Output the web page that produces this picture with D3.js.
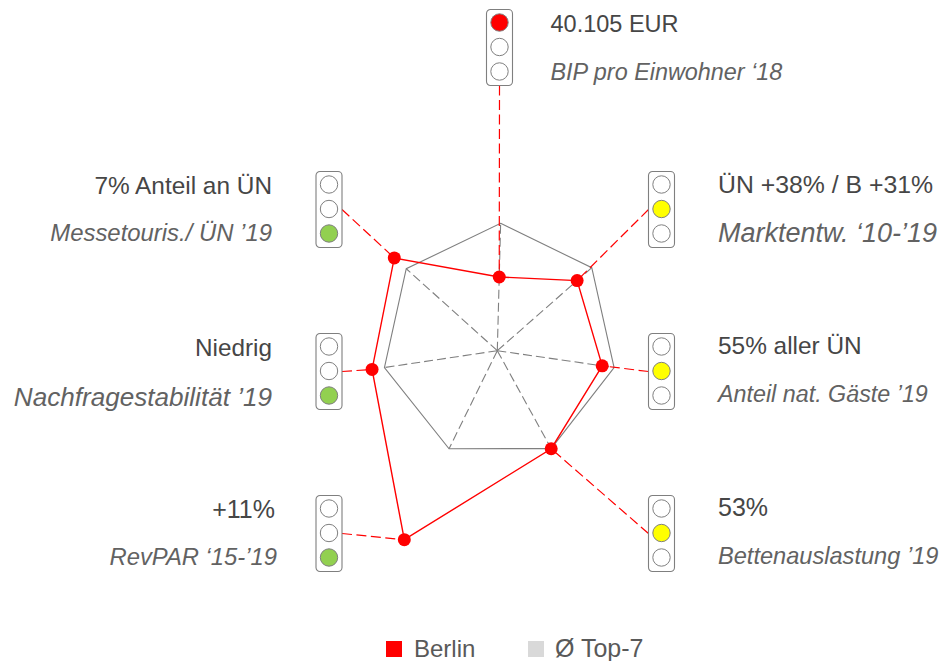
<!DOCTYPE html>
<html lang="de">
<head>
<meta charset="utf-8">
<script src="https://cdn.jsdelivr.net/npm/d3@7/dist/d3.min.js"></script>
<style>
html,body{margin:0;padding:0;background:#fff}
svg{display:block}
text{font-family:"Liberation Sans",Arial,sans-serif}
</style>
</head>
<body>
<svg id="chart" width="943" height="661"></svg>
<script>
// Indicator data, clockwise from the top spoke
const metrics = ["BIP pro Einwohner ‘18","Marktentw. ‘10-’19","Anteil nat. Gäste ’19","Bettenauslastung ’19","RevPAR ‘15-’19","Nachfragestabilität ’19","Messetouris./ ÜN ’19"];
const headlines = ["40.105 EUR","ÜN +38% / B +31%","55% aller ÜN","53%","+11%","Niedrig","7% Anteil an ÜN"];
const berlin = [59,85,84.8,89.5,168.5,101.3,110.9];
const top7 = [101.9,100.6,94.4,89.4,87.4,91.3,98];
const ratings = ["red","yellow","yellow","yellow","green","green","green"];
const legendLabels = ["Berlin","Ø Top-7"];

// Layout of the figure
const center = {x:497.3, y:350.7};
const spokeAngles = [1.5,48.7,98.2,151.2,206.2,261.5,312];
const lightSlots = [
  {x:486.5,y:9.5,side:"bottom"},
  {x:648.5,y:171.5,side:"left"},
  {x:648.5,y:333.5,side:"left"},
  {x:648.5,y:495.5,side:"left"},
  {x:316,y:495.5,side:"right"},
  {x:316,y:333.5,side:"right"},
  {x:316,y:171.5,side:"right"}
];
const labelSlots = [
  {x:550.5,x2:550.5,anchor:"start",y1:32,y2:80,s1:23.5,s2:23.4},
  {x:718,x2:718,anchor:"start",y1:193,y2:242,s1:24.8,s2:27},
  {x:718,x2:718,anchor:"start",y1:354,y2:402,s1:24.4,s2:23.3},
  {x:718,x2:718,anchor:"start",y1:516,y2:564,s1:25,s2:23.6},
  {x:275,x2:277,anchor:"end",y1:517.5,y2:565,s1:25,s2:23.8},
  {x:272,x2:272,anchor:"end",y1:355.5,y2:406,s1:24.3,s2:26.1},
  {x:272,x2:272,anchor:"end",y1:194,y2:241,s1:24.4,s2:23.9}
];
const lightColors = {red:"#ff0000",yellow:"#ffff00",green:"#92d050"};
const lightOrder = ["red","yellow","green"];

const svg = d3.select("#chart");
const radius = d3.scaleLinear().domain([0,100]).range([0,125]);
const angle = d3.scaleOrdinal().domain(metrics).range(spokeAngles.map(a => a*Math.PI/180));
const polar = (value,i) => {
  const a = angle(metrics[i]);
  return [center.x + radius(value)*Math.sin(a), center.y - radius(value)*Math.cos(a)];
};
const ring = d3.line().curve(d3.curveLinearClosed);

// Dashed grey spokes and the Top-7 outline
svg.append("g").selectAll("line").data(top7).join("line")
  .attr("x1",center.x).attr("y1",center.y)
  .attr("x2",(d,i)=>polar(d,i)[0]).attr("y2",(d,i)=>polar(d,i)[1])
  .attr("stroke","#7f7f7f").attr("stroke-width",1.1).attr("stroke-dasharray","9 4");
svg.append("path").attr("d",ring(top7.map(polar)))
  .attr("fill","none").attr("stroke","#7f7f7f").attr("stroke-width",1.1);

// Red leaders from each traffic light to its Berlin point
const lightW = 26, lightH = 76;
const anchorOf = s => s.side==="bottom" ? [s.x+lightW/2, s.y+lightH]
  : s.side==="left" ? [s.x, s.y+lightH/2] : [s.x+lightW, s.y+lightH/2];
svg.append("g").selectAll("line").data(berlin).join("line")
  .attr("x1",(d,i)=>anchorOf(lightSlots[i])[0]).attr("y1",(d,i)=>anchorOf(lightSlots[i])[1])
  .attr("x2",(d,i)=>polar(d,i)[0]).attr("y2",(d,i)=>polar(d,i)[1])
  .attr("stroke","#ff0000").attr("stroke-width",1.2).attr("stroke-dasharray","10 4.5");

// Berlin outline and points
svg.append("path").attr("d",ring(berlin.map(polar)))
  .attr("fill","none").attr("stroke","#ff0000").attr("stroke-width",1.4);
svg.append("g").selectAll("circle").data(berlin).join("circle")
  .attr("cx",(d,i)=>polar(d,i)[0]).attr("cy",(d,i)=>polar(d,i)[1])
  .attr("r",6.5).attr("fill","#ff0000");

// Traffic lights
const lights = svg.append("g").selectAll("g").data(ratings).join("g")
  .attr("transform",(d,i)=>`translate(${lightSlots[i].x},${lightSlots[i].y})`);
lights.append("rect").attr("width",lightW).attr("height",lightH).attr("rx",4)
  .attr("fill","#fff").attr("stroke","#7f7f7f").attr("stroke-width",1.1);
const bulbY = d3.scalePoint().domain(lightOrder).range([13,62]);
lights.selectAll("circle").data(d => lightOrder.map(c => ({c,on:c===d}))).join("circle")
  .attr("cx",lightW/2).attr("cy",b=>bulbY(b.c)).attr("r",8.7)
  .attr("fill",b=>b.on?lightColors[b.c]:"#fff")
  .attr("stroke","#7f7f7f").attr("stroke-width",1);

// Headline and metric name beside each light
svg.append("g").selectAll("text").data(headlines).join("text")
  .attr("x",(d,i)=>labelSlots[i].x).attr("y",(d,i)=>labelSlots[i].y1)
  .attr("text-anchor",(d,i)=>labelSlots[i].anchor)
  .attr("font-size",(d,i)=>labelSlots[i].s1).attr("fill","#464646").text(d=>d);
svg.append("g").selectAll("text").data(metrics).join("text")
  .attr("x",(d,i)=>labelSlots[i].x2).attr("y",(d,i)=>labelSlots[i].y2)
  .attr("text-anchor",(d,i)=>labelSlots[i].anchor).attr("font-style","italic")
  .attr("font-size",(d,i)=>labelSlots[i].s2).attr("fill","#626262").text(d=>d);

// Legend
const legendX = d3.scaleOrdinal().domain(legendLabels).range([386,528]);
const legendFill = d3.scaleOrdinal().domain(legendLabels).range(["#ff0000","#d9d9d9"]);
const legend = svg.append("g").selectAll("g").data(legendLabels).join("g")
  .attr("transform",d=>`translate(${legendX(d)},641)`);
legend.append("rect").attr("width",16).attr("height",16).attr("fill",d=>legendFill(d));
legend.append("text").attr("x",d=>d==="Berlin"?28:27).attr("y",16)
  .attr("font-size",(d,i)=>[24,25][i]).attr("fill","#595959").text(d=>d);
</script>
</body>
</html>
